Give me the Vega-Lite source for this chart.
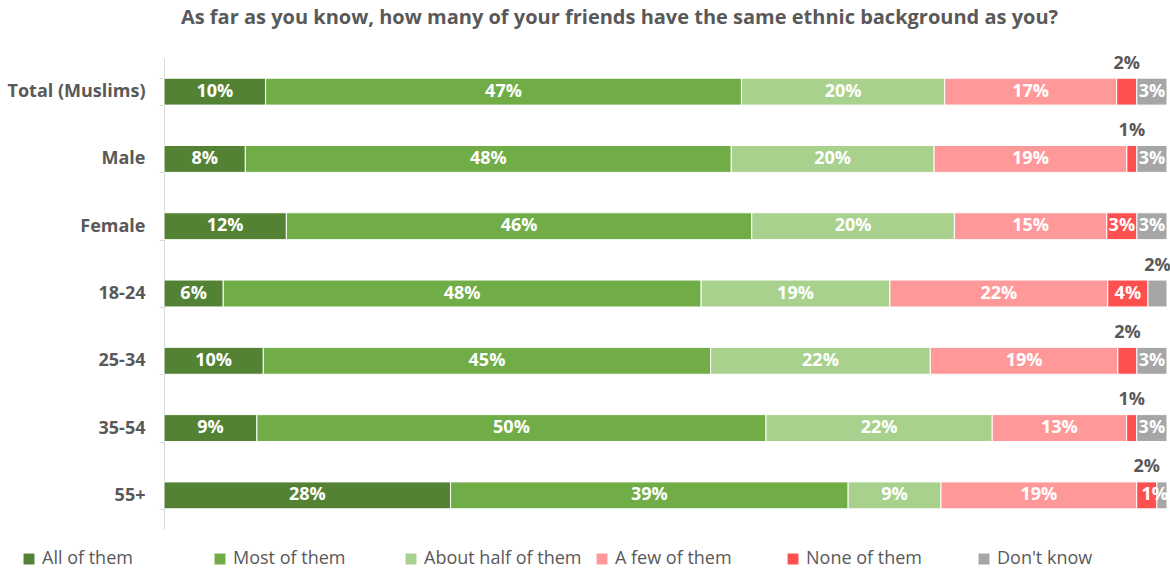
{
  "$schema": "https://vega.github.io/schema/vega-lite/v6.json",
  "width": 1003,
  "height": 471,
  "autosize": "none",
  "padding": {"left": 164, "top": 58, "right": 3, "bottom": 40},
  "background": "white",
  "config": {"view": {"stroke": null}, "font": "Open Sans"},
  "title": {
    "text": "As far as you know, how many of your friends have the same ethnic background as you?",
    "font": "Open Sans",
    "fontSize": 20,
    "fontWeight": "bold",
    "color": "#595959",
    "anchor": "middle",
    "frame": "group",
    "dx": -46,
    "offset": 21
  },
  "data": {
    "values": [
      {"group": "Total (Muslims)", "cat": "All of them", "value": 0.101},
      {"group": "Total (Muslims)", "cat": "Most of them", "value": 0.473},
      {"group": "Total (Muslims)", "cat": "About half of them", "value": 0.202},
      {"group": "Total (Muslims)", "cat": "A few of them", "value": 0.171},
      {"group": "Total (Muslims)", "cat": "None of them", "value": 0.02},
      {"group": "Total (Muslims)", "cat": "Don't know", "value": 0.03},
      {"group": "Male", "cat": "All of them", "value": 0.081},
      {"group": "Male", "cat": "Most of them", "value": 0.484},
      {"group": "Male", "cat": "About half of them", "value": 0.202},
      {"group": "Male", "cat": "A few of them", "value": 0.192},
      {"group": "Male", "cat": "None of them", "value": 0.01},
      {"group": "Male", "cat": "Don't know", "value": 0.03},
      {"group": "Female", "cat": "All of them", "value": 0.122},
      {"group": "Female", "cat": "Most of them", "value": 0.464},
      {"group": "Female", "cat": "About half of them", "value": 0.202},
      {"group": "Female", "cat": "A few of them", "value": 0.152},
      {"group": "Female", "cat": "None of them", "value": 0.03},
      {"group": "Female", "cat": "Don't know", "value": 0.03},
      {"group": "18-24", "cat": "All of them", "value": 0.059},
      {"group": "18-24", "cat": "Most of them", "value": 0.476},
      {"group": "18-24", "cat": "About half of them", "value": 0.188},
      {"group": "18-24", "cat": "A few of them", "value": 0.217},
      {"group": "18-24", "cat": "None of them", "value": 0.04},
      {"group": "18-24", "cat": "Don't know", "value": 0.019},
      {"group": "25-34", "cat": "All of them", "value": 0.099},
      {"group": "25-34", "cat": "Most of them", "value": 0.446},
      {"group": "25-34", "cat": "About half of them", "value": 0.219},
      {"group": "25-34", "cat": "A few of them", "value": 0.187},
      {"group": "25-34", "cat": "None of them", "value": 0.019},
      {"group": "25-34", "cat": "Don't know", "value": 0.03},
      {"group": "35-54", "cat": "All of them", "value": 0.092},
      {"group": "35-54", "cat": "Most of them", "value": 0.504},
      {"group": "35-54", "cat": "About half of them", "value": 0.224},
      {"group": "35-54", "cat": "A few of them", "value": 0.133},
      {"group": "35-54", "cat": "None of them", "value": 0.01},
      {"group": "35-54", "cat": "Don't know", "value": 0.03},
      {"group": "55+", "cat": "All of them", "value": 0.284},
      {"group": "55+", "cat": "Most of them", "value": 0.394},
      {"group": "55+", "cat": "About half of them", "value": 0.092},
      {"group": "55+", "cat": "A few of them", "value": 0.194},
      {"group": "55+", "cat": "None of them", "value": 0.02},
      {"group": "55+", "cat": "Don't know", "value": 0.01}
    ]
  },
  "transform": [
    {"calculate": "indexof(['All of them','Most of them','About half of them','A few of them','None of them','Don\\'t know'], datum.cat)", "as": "ord"},
    {"stack": "value", "groupby": ["group"], "sort": [{"field": "ord", "order": "ascending"}], "offset": "normalize", "as": ["v0", "v1"]},
    {"calculate": "(datum.v0 + datum.v1) / 2", "as": "mid"},
    {"calculate": "(datum.cat == 'None of them' && datum.value < 0.025) || (datum.group == '18-24' && datum.cat == 'Don\\'t know') ? 'above' : (datum.group == '55+' && datum.cat == 'Don\\'t know' ? 'end' : 'in')", "as": "place"}
  ],
  "encoding": {
    "y": {
      "field": "group",
      "type": "nominal",
      "sort": ["Total (Muslims)", "Male", "Female", "18-24", "25-34", "35-54", "55+"],
      "scale": {"paddingInner": 0.6, "paddingOuter": 0.3},
      "axis": {
        "title": null,
        "labelFont": "Open Sans",
        "labelFontSize": 18,
        "labelFontWeight": "bold",
        "labelColor": "#595959",
        "labelPadding": 14,
        "tickBand": "extent",
        "tickSize": 5,
        "tickColor": "#d9d9d9",
        "domainColor": "#d9d9d9",
        "labelLimit": 300
      }
    }
  },
  "layer": [
    {
      "mark": {"type": "bar", "stroke": "white", "strokeWidth": 1},
      "encoding": {
        "x": {"field": "v0", "type": "quantitative", "scale": {"domain": [0, 1], "nice": false, "zero": false}, "axis": null},
        "x2": {"field": "v1"},
        "color": {
          "field": "cat",
          "type": "nominal",
          "sort": ["All of them", "Most of them", "About half of them", "A few of them", "None of them", "Don't know"],
          "scale": {
            "domain": ["All of them", "Most of them", "About half of them", "A few of them", "None of them", "Don't know"],
            "range": ["#548235", "#70AD47", "#A9D18E", "#FF9999", "#FF5050", "#A6A6A6"]
          },
          "legend": {
            "title": null,
            "orient": "none",
            "legendX": -144,
            "legendY": 492,
            "direction": "horizontal",
            "columns": 6,
            "gridAlign": "all",
            "columnPadding": 11,
            "symbolType": "square",
            "symbolSize": 120,
            "symbolStrokeWidth": 0,
            "labelFont": "Open Sans",
            "labelFontSize": 18,
            "labelColor": "#595959",
            "labelOffset": 4,
            "labelLimit": 300
          }
        }
      }
    },
    {
      "transform": [{"filter": "datum.place == 'in'"}],
      "mark": {"type": "text", "color": "white", "fontSize": 18, "fontWeight": "bold", "font": "Open Sans", "baseline": "middle", "align": "center"},
      "encoding": {
        "x": {"field": "mid", "type": "quantitative"},
        "text": {"field": "value", "type": "quantitative", "format": ".0%"}
      }
    },
    {
      "transform": [{"filter": "datum.place == 'end'"}],
      "mark": {"type": "text", "color": "white", "fontSize": 18, "fontWeight": "bold", "font": "Open Sans", "baseline": "middle", "align": "right", "dx": 1},
      "encoding": {
        "x": {"field": "v1", "type": "quantitative"},
        "text": {"field": "value", "type": "quantitative", "format": ".0%"}
      }
    },
    {
      "transform": [{"filter": "datum.place == 'above'"}],
      "mark": {"type": "text", "color": "#595959", "fontSize": 18, "fontWeight": "bold", "font": "Open Sans", "baseline": "middle", "align": "center", "dy": -28},
      "encoding": {
        "x": {"field": "mid", "type": "quantitative"},
        "text": {"field": "value", "type": "quantitative", "format": ".0%"}
      }
    }
  ]
}
